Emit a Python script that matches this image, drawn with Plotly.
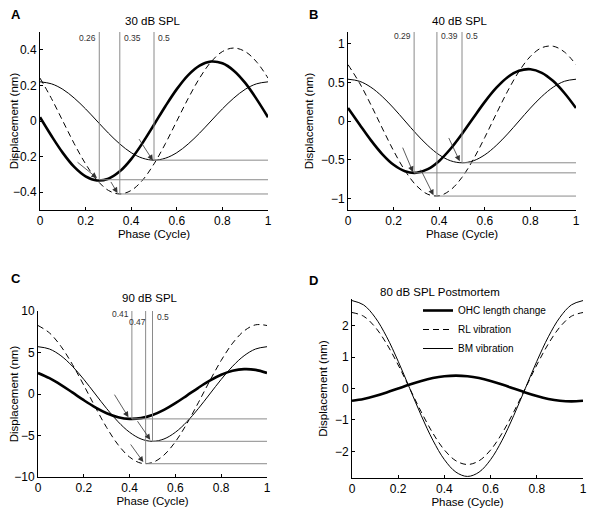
import plotly.graph_objects as go
from plotly.subplots import make_subplots

# phase samples (cycle)
phase = [0.0, 0.05, 0.1, 0.15, 0.2, 0.25, 0.3, 0.35, 0.4, 0.45, 0.5,
         0.55, 0.6, 0.65, 0.7, 0.75, 0.8, 0.85, 0.9, 0.95, 1.0]

# A: 30 dB SPL
a_ohc = [0.021, -0.083, -0.179, -0.258, -0.311, -0.334, -0.324, -0.283, -0.214, -0.123, -0.021,
         0.083, 0.179, 0.258, 0.311, 0.334, 0.324, 0.283, 0.214, 0.123, 0.021]
a_rl = [0.241, 0.127, 0.0, -0.127, -0.241, -0.332, -0.390, -0.41, -0.390, -0.332, -0.241,
        -0.127, 0.0, 0.127, 0.241, 0.332, 0.390, 0.41, 0.390, 0.332, 0.241]
a_bm = [0.22, 0.209, 0.178, 0.129, 0.068, 0.0, -0.068, -0.129, -0.178, -0.209, -0.22,
        -0.209, -0.178, -0.129, -0.068, 0.0, 0.068, 0.129, 0.178, 0.209, 0.22]

# B: 40 dB SPL
b_ohc = [0.167, -0.042, -0.247, -0.427, -0.566, -0.649, -0.669, -0.623, -0.516, -0.359, -0.167,
         0.042, 0.247, 0.427, 0.566, 0.649, 0.669, 0.623, 0.516, 0.359, 0.167]
b_rl = [0.728, 0.494, 0.212, -0.091, -0.385, -0.641, -0.835, -0.947, -0.966, -0.890, -0.728,
        -0.494, -0.212, 0.091, 0.385, 0.641, 0.835, 0.947, 0.966, 0.890, 0.728]
b_bm = [0.54, 0.514, 0.437, 0.317, 0.167, 0.0, -0.167, -0.317, -0.437, -0.514, -0.54,
        -0.514, -0.437, -0.317, -0.167, 0.0, 0.167, 0.317, 0.437, 0.514, 0.54]

# C: 90 dB SPL
c_ohc = [2.533, 1.912, 1.104, 0.188, -0.746, -1.607, -2.312, -2.789, -2.994, -2.906, -2.533,
         -1.912, -1.104, -0.188, 0.746, 1.607, 2.312, 2.789, 2.994, 2.906, 2.533]
c_rl = [8.251, 7.361, 5.750, 3.577, 1.053, -1.574, -4.047, -6.124, -7.600, -8.334, -8.251,
        -7.361, -5.750, -3.577, -1.053, 1.574, 4.047, 6.124, 7.600, 8.334, 8.251]
c_bm = [5.7, 5.421, 4.611, 3.350, 1.761, 0.0, -1.761, -3.350, -4.611, -5.421, -5.7,
        -5.421, -4.611, -3.350, -1.761, 0.0, 1.761, 3.350, 4.611, 5.421, 5.7]

# D: 80 dB SPL postmortem
d_ohc = [-0.390, -0.332, -0.241, -0.127, 0.0, 0.127, 0.241, 0.332, 0.390, 0.41, 0.390,
         0.332, 0.241, 0.127, 0.0, -0.127, -0.241, -0.332, -0.390, -0.41, -0.390]
d_rl = [2.42, 2.302, 1.958, 1.422, 0.748, 0.0, -0.748, -1.422, -1.958, -2.302, -2.42,
        -2.302, -1.958, -1.422, -0.748, 0.0, 0.748, 1.422, 1.958, 2.302, 2.42]
d_bm = [2.8, 2.663, 2.265, 1.646, 0.865, 0.0, -0.865, -1.646, -2.265, -2.663, -2.8,
        -2.663, -2.265, -1.646, -0.865, 0.0, 0.865, 1.646, 2.265, 2.663, 2.8]

# minima per panel: (phase, value) for OHC, RL, BM
a_peaks = [(0.26, -0.33), (0.35, -0.41), (0.5, -0.22)]
b_peaks = [(0.29, -0.67), (0.39, -0.97), (0.5, -0.54)]
c_peaks = [(0.41, -3), (0.47, -8.4), (0.5, -5.7)]
a_phase_labels = ["0.26", "0.35", "0.5"]
b_phase_labels = ["0.29", "0.39", "0.5"]
c_phase_labels = ["0.41", "0.47", "0.5"]
a_val_labels = ["\u22120.33", "\u22120.41", "\u22120.22"]
b_val_labels = ["\u22120.67", "\u22120.97", "\u22120.54"]
c_val_labels = ["\u22123", "\u22128.4", "\u22125.7"]

FONT = "Liberation Sans, Arial, sans-serif"
GRAY = "#8a8a8a"

# page body has an 8px margin, so the figure is drawn slightly smaller
OFF = 8
W, H = 603 - OFF, 508 - OFF


def px(x):
    return (x - OFF) / W


def py(y):
    return 1 - (y - OFF) / H


fig = make_subplots(rows=2, cols=2)

panels = [
    (1, 1, a_ohc, a_rl, a_bm),
    (1, 2, b_ohc, b_rl, b_bm),
    (2, 1, c_ohc, c_rl, c_bm),
    (2, 2, d_ohc, d_rl, d_bm),
]
for r, c, ohc, rl, bm in panels:
    show = (r == 2 and c == 2)
    fig.add_trace(go.Scatter(x=phase, y=ohc, mode="lines", line=dict(color="black", width=2.6, shape="spline"),
                             name="OHC length change", showlegend=show), row=r, col=c)
    fig.add_trace(go.Scatter(x=phase, y=rl, mode="lines", line=dict(color="black", width=1, dash="6px,4px", shape="spline"),
                             name="RL vibration", showlegend=show), row=r, col=c)
    fig.add_trace(go.Scatter(x=phase, y=bm, mode="lines", line=dict(color="black", width=1, shape="spline"),
                             name="BM vibration", showlegend=show), row=r, col=c)

# axes boxes in page pixels: (left, right, top, bottom)
boxes = {1: (40, 268, 32, 210), 2: (348, 576, 32, 210), 3: (38, 267, 311, 477), 4: (352, 583, 299, 478)}
yranges = {1: [-0.5, 0.5], 2: [-1.15, 1.15], 3: [-10, 10], 4: [-2.85, 2.85]}
ytickvals = {1: [-0.4, -0.2, 0, 0.2, 0.4], 2: [-1, -0.5, 0, 0.5, 1],
             3: [-10, -5, 0, 5, 10], 4: [-2, -1, 0, 1, 2]}
for i in range(1, 5):
    sfx = "" if i == 1 else str(i)
    l, r, t, b = boxes[i]
    fig.layout["xaxis" + sfx].update(
        domain=[px(l), px(r)], range=[0, 1], tickvals=[0, 0.2, 0.4, 0.6, 0.8, 1],
        ticktext=["0", "0.2", "0.4", "0.6", "0.8", "1"], automargin=False,
        showline=True, linecolor="black", linewidth=1, ticks="inside", ticklen=3,
        tickcolor="black", showgrid=False, zeroline=False, mirror=False,
        tickfont=dict(size=12, color="black", family=FONT),
        title=dict(text="Phase (Cycle)", font=dict(size=11.5, color="black", family=FONT), standoff=0))
    fig.layout["yaxis" + sfx].update(
        domain=[py(b), py(t)], range=yranges[i], tickvals=ytickvals[i], automargin=False,
        showline=True, linecolor="black", linewidth=1, ticks="inside", ticklen=3,
        tickcolor="black", showgrid=False, zeroline=False,
        tickfont=dict(size=12, color="black", family=FONT),
        title=dict(text="Displacement (nm)", font=dict(size=11.5, color="black", family=FONT), standoff=4))

# reference lines, labels and arrows for A, B, C
ref_sets = [
    ("x", "y", a_peaks, a_phase_labels, a_val_labels, 0.5, [0.465, 0.465, 0.465],
     [("right", 0.26), ("left", 0.35), ("left", 0.5)], 1.025,
     [((0.158, -0.225), (0.25, -0.32)), ((0.307, -0.334), (0.34, -0.405)), ((0.43, -0.093), (0.495, -0.222))]),
    ("x2", "y2", b_peaks, b_phase_labels, b_val_labels, 1.15, [1.1, 1.1, 1.1],
     [("right", 0.29), ("left", 0.39), ("left", 0.5)], 1.025,
     [((0.237, -0.325), (0.285, -0.66)), ((0.316, -0.61), (0.375, -0.96)), ((0.439, -0.2), (0.49, -0.52))]),
    ("x3", "y3", c_peaks, c_phase_labels, c_val_labels, 10, [9.6, 8.7, 9.3],
     [("right", 0.41), ("right", 0.486), ("left", 0.5)], 1.035,
     [((0.33, 0.1), (0.395, -2.8)), ((0.43, -3.1), (0.49, -5.5)), ((0.40, -5.9), (0.46, -8.2))]),
]
for xr, yr, peaks, plabels, vlabels, ytop, plab_y, plab_pos, vx, arrows in ref_sets:
    for (mx, my), pl, vl, ly, (side, lx) in zip(peaks, plabels, vlabels, plab_y, plab_pos):
        fig.add_shape(type="line", xref=xr, yref=yr, x0=mx, x1=mx, y0=ytop, y1=my,
                      line=dict(color=GRAY, width=1))
        fig.add_shape(type="line", xref=xr, yref=yr, x0=mx, x1=1, y0=my, y1=my,
                      line=dict(color=GRAY, width=1))
        fig.add_annotation(xref=xr, yref=yr, x=lx, y=ly, text=pl, showarrow=False,
                           xanchor=side, xshift=-1 if side == "right" else 2,
                           font=dict(size=8.5, color="#333333", family=FONT))
        fig.add_annotation(xref=xr, yref=yr, x=vx, y=my, text=vl, showarrow=False, xanchor="left",
                           font=dict(size=8.5, color="#333333", family=FONT))
    for (tx, ty), (hx, hy) in arrows:
        fig.add_annotation(xref=xr, yref=yr, axref=xr, ayref=yr, x=hx, y=hy, ax=tx, ay=ty, text="",
                           showarrow=True, arrowhead=2, arrowsize=1.4, arrowwidth=0.8, arrowcolor="#333333")

# panel titles
titles = [("30 dB SPL", 153, 21), ("40 dB SPL", 460, 21), ("90 dB SPL", 150, 298),
          ("80 dB SPL Postmortem", 440, 292)]
for t, tx, ty in titles:
    fig.add_annotation(xref="paper", yref="paper", x=px(tx), y=py(ty), text=t, showarrow=False,
                       xanchor="center", yanchor="middle", font=dict(size=11.5, color="black", family=FONT))

letters = [("A", 16, 14), ("B", 314, 14), ("C", 16, 278), ("D", 314, 280)]
for t, tx, ty in letters:
    fig.add_annotation(xref="paper", yref="paper", x=px(tx), y=py(ty), text="<b>" + t + "</b>",
                       showarrow=False, xanchor="center", yanchor="middle",
                       font=dict(size=13, color="black", family=FONT))

fig.update_layout(
    width=W, height=H,
    margin=dict(l=0, r=0, t=0, b=0),
    paper_bgcolor="white", plot_bgcolor="white",
    font=dict(family=FONT, color="black"),
    legend=dict(x=px(418), y=py(296), xanchor="left", yanchor="top", bgcolor="rgba(0,0,0,0)",
                font=dict(size=10, color="black", family=FONT), itemwidth=30, tracegroupgap=0),
)

fig.write_html("out.html")
